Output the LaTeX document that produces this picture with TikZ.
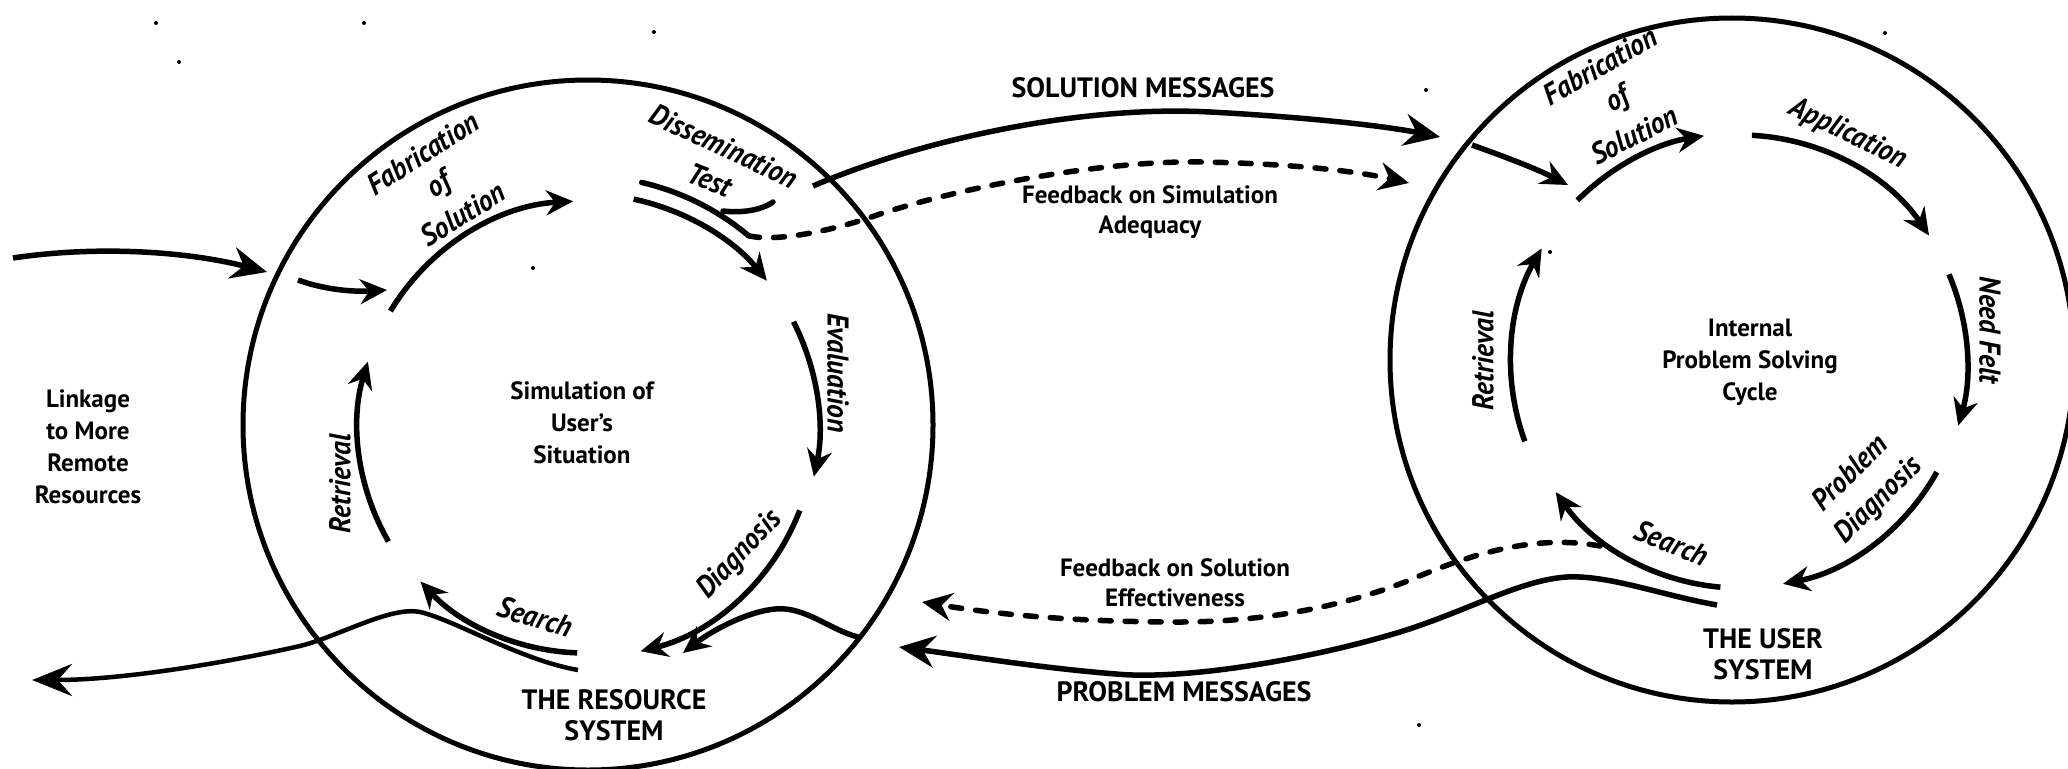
\documentclass[tikz,border=0pt]{standalone}
\usepackage{fontspec}
\setmainfont{PT Sans}
\newfontfamily\labf{PT Sans}[FakeStretch=0.92]
\usetikzlibrary{arrows.meta}
\begin{document}
\begin{tikzpicture}[x=1pt,y=-1pt,
  ring/.style={line width=5pt},
  flow/.style={line width=5.5pt, -{Stealth[length=27pt,width=25pt,inset=9pt]}},
  bigflow/.style={line width=5.5pt, -{Stealth[length=36pt,width=32pt,inset=12pt]}},
  plain/.style={line width=5.5pt, line cap=round},
  dashflow/.style={line width=5.5pt, line cap=round, dash pattern=on 11pt off 14pt, -{Stealth[length=30pt,width=28pt,inset=10pt]}},
  main/.style={font=\fontsize{25}{32}\selectfont\bfseries, align=center, inner sep=0pt},
  caps/.style={font=\fontsize{28}{31}\selectfont\bfseries, align=center, inner sep=0pt},
  lbl/.style={font=\labf\fontsize{30}{30}\selectfont\bfseries\itshape, inner sep=0pt}
]
\fill[white] (0,0) rectangle (2068,768);
\useasboundingbox (0,0) rectangle (2068,768);

% specks
\foreach \p in {(156,23),(364,23),(179,62),(654,32),(533,268),(1426,90),(1885,33),(1550,252),(1419,725)}
  \fill \p circle (2pt);

% circles (the two systems)
\coordinate (L) at (588,425);
\coordinate (R) at (1732,360);
\draw[ring] (L) circle[radius=345];
\draw[ring] (R) circle[radius=342];
\coordinate (C1) at (585,428);
\coordinate (C2) at (1740,363);

% ---- left system ----
\coordinate (inA) at (13,258);  \coordinate (inB) at (267,272);
\draw[bigflow] (inA) .. controls (100,245) and (190,252) .. (inB);
\coordinate (inC) at (298,280); \coordinate (inD) at (387,290);
\draw[flow] (inC) .. controls (325,290) and (355,292) .. (inD);
\draw[flow] ([shift={(-149:227)}]C1) arc[start angle=-149, end angle=-93, radius=227];
\draw[plain] ([shift={(-77:252)}]C1) arc[start angle=-77, end angle=-50, radius=256] coordinate (dA);
\draw[plain] (723,211) .. controls (740,213) and (760,211) .. (773,202);
\draw[flow] ([shift={(-78:234)}]C1) arc[start angle=-78, end angle=-39, radius=234];
\draw[flow] ([shift={(-27:234)}]C1) arc[start angle=-27, end angle=12, radius=234];
\draw[flow] ([shift={(21:230)}]C1) arc[start angle=21, end angle=76, radius=230];
\coordinate (pmA) at (858,637); \coordinate (pmB) at (683,653);
\draw[flow] (pmA) .. controls (830,630) and (805,606) .. (775,609) .. controls (745,612) and (710,632) .. (pmB);
\draw[flow] ([shift={(92:225)}]C1) arc[start angle=92, end angle=137, radius=225];
\coordinate (exA) at (578,670); \coordinate (exB) at (32,680);
\draw[line width=4.5pt, -{Stealth[length=40pt,width=32pt,inset=14pt]}] (exA) .. controls (520,660) and (455,620) .. (420,612) .. controls (390,606) and (340,636) .. (300,646) .. controls (220,664) and (120,680) .. (exB);
\draw[flow] ([shift={(150:227)}]C1) arc[start angle=150, end angle=197, radius=227];

% ---- messages between systems ----
\coordinate (smA) at (813,186); \coordinate (smB) at (1440,137);
\draw[bigflow] (smA) .. controls (920,140) and (1080,105) .. (1210,112) .. controls (1320,118) and (1390,127) .. (smB);
\coordinate (fsB) at (1409,183);
\draw[dashflow] (dA) .. controls (775,242) and (830,232) .. (880,214) .. controls (960,188) and (1100,160) .. (1204,162) .. controls (1300,164) and (1360,172) .. (fsB);
\coordinate (prA) at (1717,605); \coordinate (prB) at (899,647);
\draw[bigflow] (prA) .. controls (1660,595) and (1610,575) .. (1567,577) .. controls (1520,580) and (1470,610) .. (1400,632) .. controls (1300,662) and (1180,680) .. (1116,674) .. controls (1040,668) and (960,655) .. (prB);
\coordinate (feA) at (1600,546); \coordinate (feB) at (922,602);
\draw[dashflow] (feA) .. controls (1540,535) and (1480,550) .. (1410,580) .. controls (1340,608) and (1260,622) .. (1180,622) .. controls (1080,622) and (1000,615) .. (feB);

% ---- right system ----
\coordinate (rinA) at (1472,145); \coordinate (rinB) at (1568,185);
\draw[flow] (rinA) .. controls (1500,155) and (1535,168) .. (rinB);
\draw[flow] ([shift={(-135:230)}]C2) arc[start angle=-135, end angle=-99, radius=230];
\draw[flow] ([shift={(-87:228)}]C2) arc[start angle=-87, end angle=-34, radius=228];
\draw[flow] ([shift={(-23:227)}]C2) arc[start angle=-23, end angle=16, radius=227];
\draw[flow] ([shift={(29:225)}]C2) arc[start angle=29, end angle=79, radius=225];
\draw[flow] ([shift={(95:225)}]C2) arc[start angle=95, end angle=145, radius=225];
\draw[flow] ([shift={(160:229)}]C2) arc[start angle=160, end angle=210, radius=229];

% ---- texts ----
\node[main] (linkage) at (88,447) {Linkage\\to More\\Remote\\Resources};
\node[main] (sim) at (582,423) {Simulation of\\User's\\Situation};
\node[caps] (res) at (614,715) {THE RESOURCE\\SYSTEM};
\node[lbl, rotate=33] (lfab) at (423,153) {Fabrication};
\node[lbl, rotate=33] (lof) at (440,186) {of};
\node[lbl, rotate=32] (lsol) at (463,214) {Solution};
\node[lbl, rotate=-25] (ldis) at (724,146) {Dissemination};
\node[lbl, rotate=-22] (ltest) at (710,180) {Test};
\node[lbl, rotate=-90] (leval) at (838,373) {Evaluation};
\node[lbl, rotate=47] (ldiag) at (740,555) {Diagnosis};
\node[lbl, rotate=-17] (lsea) at (535,617) {Search};
\node[lbl, rotate=90] (lret) at (340,484) {Retrieval};

\node[caps] (solmsg) at (1143,88) {SOLUTION MESSAGES};
\node[main, font=\fontsize{25}{30}\selectfont\bfseries] (fbsim) at (1150,212) {Feedback on Simulation\\Adequacy};
\node[main, font=\fontsize{25}{30}\selectfont\bfseries] (fbsol) at (1175,583) {Feedback on Solution\\Effectiveness};
\node[caps] (probmsg) at (1184,692) {PROBLEM MESSAGES};

\node[main] (ipsc) at (1750,362) {Internal\\Problem Solving\\Cycle};
\node[caps] (user) at (1763,654) {THE USER\\SYSTEM};
\node[lbl, rotate=30] (rfab) at (1600,66) {Fabrication};
\node[lbl, rotate=30] (rof) at (1618,100) {of};
\node[lbl, rotate=27] (rsol) at (1634,135) {Solution};
\node[lbl, rotate=-26] (rapp) at (1848,134) {Application};
\node[lbl, rotate=-90] (rneed) at (1990,330) {Need Felt};
\node[lbl, rotate=45] (rprob) at (1849,472) {Problem};
\node[lbl, rotate=45] (rdiag) at (1879,501) {Diagnosis};
\node[lbl, rotate=-22] (rsea) at (1672,543) {Search};
\node[lbl, rotate=90] (rret) at (1483,361) {Retrieval};
\end{tikzpicture}
\end{document}
